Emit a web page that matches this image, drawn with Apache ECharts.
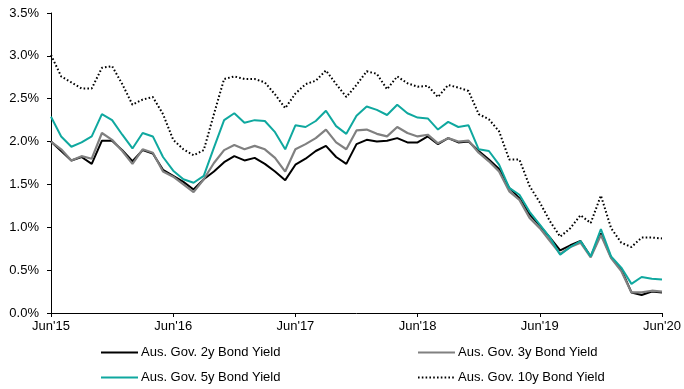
<!DOCTYPE html>
<html>
<head>
<meta charset="utf-8">
<script src="https://cdn.jsdelivr.net/npm/echarts@6/dist/echarts.min.js"></script>
<style>
  html, body { margin: 0; padding: 0; background: #fff; }
  #chart { width: 684px; height: 389px; }
</style>
</head>
<body>
<div id="chart"></div>
<script>
// Monthly observations, Jun'15 to Jun'20
const months = ['Jan', 'Feb', 'Mar', 'Apr', 'May', 'Jun', 'Jul', 'Aug', 'Sep', 'Oct', 'Nov', 'Dec'];
const categories = [];
for (let i = 0; i <= 60; i++) {
  const m = (5 + i) % 12;
  const y = 15 + Math.floor((5 + i) / 12);
  categories.push(months[m] + "'" + y);
}

const yield2y = [
  2.00, 1.89, 1.78, 1.82, 1.74, 2.01, 2.01, 1.90, 1.77, 1.90, 1.86, 1.67,
  1.60, 1.53, 1.44, 1.56, 1.65, 1.76, 1.83, 1.78, 1.81, 1.74, 1.65, 1.55,
  1.73, 1.80, 1.89, 1.95, 1.82, 1.74, 1.97, 2.02, 2.00, 2.01, 2.04, 1.99,
  1.99, 2.06, 1.97, 2.04, 1.99, 2.00, 1.89, 1.79, 1.68, 1.46, 1.34, 1.15,
  1.02, 0.88, 0.73, 0.79, 0.84, 0.66, 0.93, 0.65, 0.51, 0.24, 0.21, 0.25,
  0.24
];
const yield3y = [
  2.00, 1.91, 1.78, 1.83, 1.80, 2.10, 2.02, 1.89, 1.74, 1.91, 1.87, 1.65,
  1.59, 1.50, 1.41, 1.56, 1.75, 1.90, 1.96, 1.91, 1.95, 1.91, 1.81, 1.65,
  1.91, 1.97, 2.04, 2.14, 1.99, 1.91, 2.13, 2.14, 2.09, 2.06, 2.17, 2.10,
  2.06, 2.08, 1.98, 2.04, 2.00, 2.01, 1.87, 1.77, 1.65, 1.42, 1.32, 1.11,
  0.99, 0.84, 0.69, 0.77, 0.82, 0.65, 0.91, 0.64, 0.49, 0.24, 0.24, 0.26,
  0.25
];
const yield5y = [
  2.29, 2.06, 1.94, 1.99, 2.06, 2.32, 2.25, 2.08, 1.92, 2.10, 2.06, 1.82,
  1.66, 1.56, 1.52, 1.60, 1.93, 2.25, 2.33, 2.22, 2.25, 2.24, 2.11, 1.91,
  2.19, 2.17, 2.24, 2.36, 2.18, 2.09, 2.30, 2.41, 2.37, 2.31, 2.43, 2.33,
  2.28, 2.27, 2.14, 2.23, 2.17, 2.19, 1.91, 1.89, 1.73, 1.46, 1.38, 1.18,
  1.03, 0.88, 0.68, 0.77, 0.84, 0.66, 0.98, 0.66, 0.53, 0.34, 0.42, 0.40,
  0.39
];
const yield10y = [
  3.01, 2.76, 2.69, 2.62, 2.62, 2.86, 2.88, 2.67, 2.43, 2.49, 2.52, 2.32,
  2.02, 1.91, 1.84, 1.90, 2.32, 2.73, 2.76, 2.73, 2.73, 2.69, 2.55, 2.39,
  2.56, 2.67, 2.71, 2.83, 2.67, 2.52, 2.66, 2.82, 2.79, 2.61, 2.76, 2.68,
  2.64, 2.65, 2.52, 2.66, 2.63, 2.59, 2.32, 2.26, 2.12, 1.79, 1.79, 1.48,
  1.29, 1.07, 0.89, 0.99, 1.14, 1.05, 1.37, 0.99, 0.82, 0.77, 0.88, 0.88,
  0.87
];

const seriesNames = [
  'Aus. Gov. 2y Bond Yield',
  'Aus. Gov. 3y Bond Yield',
  'Aus. Gov. 5y Bond Yield',
  'Aus. Gov. 10y Bond Yield'
];

const FONT = '"Liberation Sans", Arial, sans-serif';
const textStyle = { fontFamily: FONT, fontSize: 13, color: '#000' };

// One legend block per series so each entry sits in its own column/row
function legendAt(name, left, top) {
  return {
    data: [name],
    left: left,
    top: top,
    padding: 0,
    itemWidth: 37,
    itemHeight: 12,
    itemGap: 0,
    selectedMode: false,
    itemStyle: { opacity: 0 },
    textStyle: Object.assign({ padding: [0, 0, 0, -2] }, textStyle)
  };
}

const chart = echarts.init(document.getElementById('chart'), null, { renderer: 'canvas' });

chart.setOption({
  animation: false,
  backgroundColor: '#fff',
  grid: { left: 51, right: 22, top: 13, bottom: 76, containLabel: false },
  legend: [
    legendAt(seriesNames[0], 100, 346),
    legendAt(seriesNames[1], 417, 346),
    legendAt(seriesNames[2], 100, 371),
    legendAt(seriesNames[3], 417, 371)
  ],
  xAxis: {
    type: 'category',
    data: categories,
    boundaryGap: false,
    axisLine: { lineStyle: { color: '#000', width: 1 } },
    axisTick: { interval: 11, length: 4, lineStyle: { color: '#000' } },
    axisLabel: Object.assign({ interval: 11, margin: 7 }, textStyle),
    splitLine: { show: false }
  },
  yAxis: {
    type: 'value',
    min: 0,
    max: 3.5,
    interval: 0.5,
    axisLine: { show: true, lineStyle: { color: '#000', width: 1 } },
    axisTick: { show: true, length: 4, lineStyle: { color: '#000' } },
    axisLabel: Object.assign({
      margin: 12,
      formatter: v => v.toFixed(1) + '%'
    }, textStyle),
    splitLine: { show: false }
  },
  series: [
    {
      name: seriesNames[0], type: 'line', data: yield2y, symbol: 'none',
      lineStyle: { color: '#000000', width: 2 }, itemStyle: { color: '#000000' }
    },
    {
      name: seriesNames[1], type: 'line', data: yield3y, symbol: 'none',
      lineStyle: { color: '#808080', width: 2.2 }, itemStyle: { color: '#808080' }
    },
    {
      name: seriesNames[2], type: 'line', data: yield5y, symbol: 'none',
      lineStyle: { color: '#0FA89F', width: 2 }, itemStyle: { color: '#0FA89F' }
    },
    {
      name: seriesNames[3], type: 'line', data: yield10y, symbol: 'none',
      lineStyle: { color: '#000000', width: 2, type: [1.6, 2.2] }, itemStyle: { color: '#000000' }
    }
  ]
});
</script>
</body>
</html>
